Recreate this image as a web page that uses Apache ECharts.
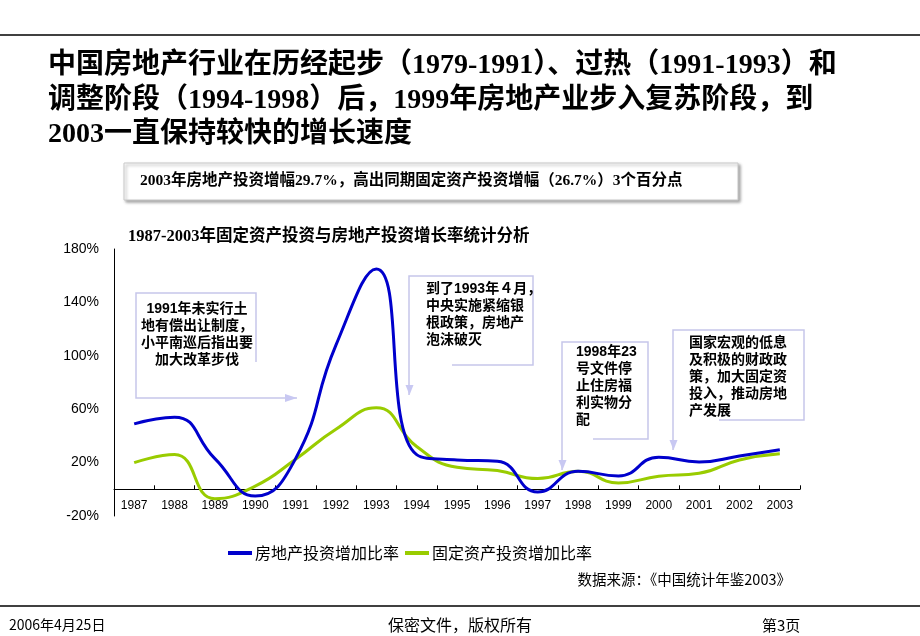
<!DOCTYPE html>
<html><head><meta charset="utf-8">
<script src="https://cdn.jsdelivr.net/npm/echarts@6/dist/echarts.min.js"></script>
<style>html,body{margin:0;padding:0;background:#fff}#c{width:920px;height:636px}</style>
</head><body><div id="c"></div>
<script>
const years = ['1987','1988','1989','1990','1991','1992','1993','1994','1995','1996','1997','1998','1999','2000','2001','2002','2003'];
const realEstateGrowth = [49, 54, 23, -5, 23, 108, 165, 26, 22, 21, -2, 13.5, 10, 24, 20.5, 25, 29.7];
const fixedAssetGrowth = [20, 26, -7, 2.4, 22.5, 45, 61, 32, 16.5, 14, 8, 13.5, 4.8, 9.8, 12, 22, 26.7];
const seriesNames = ['房地产投资增加比率', '固定资产投资增加比率'];
const yMin = -20, yMax = 180, yStep = 40;

const CJK = '"Noto Sans CJK SC"';
const SERIF = '"Liberation Serif", ' + CJK;
const SANS = '"Liberation Sans", Arial, ' + CJK;
const boxStroke = '#c6c6ea';
const arrowFill = '#c8c8f2';

const W = 920, H = 636;
const gridTop = 249, gridBottom = 120;
const gridHeight = H - gridTop - gridBottom;
// place the category axis (with its labels) on the zero line
const zeroOffset = -((0 - yMin) / (yMax - yMin)) * gridHeight;

function callout(points, tip, dir) {
  let tri;
  if (dir === 'right') tri = [[tip[0]-12, tip[1]-4], tip, [tip[0]-12, tip[1]+4]];
  else tri = [[tip[0]-4, tip[1]-10], tip, [tip[0]+4, tip[1]-10]];
  return [
    {type:'polyline', shape:{points}, style:{stroke:boxStroke, lineWidth:1.5, fill:null}, z:10},
    {type:'polygon', shape:{points:tri}, style:{fill:arrowFill}, z:10}
  ];
}
function note(x, y, text, align) {
  return {type:'text', x, y, z:11, style:{text, fill:'#000', font:'bold 14px ' + SANS, lineHeight:17, align: align||'left', verticalAlign:'top'}};
}

const chart = echarts.init(document.getElementById('c'), null, {renderer:'canvas'});
chart.setOption({
  backgroundColor:'#fff',
  animation:false,
  grid:{left:114, right:120, top:gridTop, bottom:gridBottom, containLabel:false},
  xAxis:{
    type:'category', data:years, boundaryGap:true, offset:zeroOffset,
    axisLine:{onZero:false, lineStyle:{color:'#000', width:1}},
    axisTick:{show:true, inside:true, length:4, interval:0, lineStyle:{color:'#000'}},
    axisLabel:{color:'#000', fontSize:12, fontFamily:SANS, margin:10, interval:0}
  },
  yAxis:{
    type:'value', min:yMin, max:yMax, interval:yStep,
    axisLine:{show:true, lineStyle:{color:'#000', width:1}},
    axisTick:{show:false},
    splitLine:{show:false},
    axisLabel:{color:'#000', fontSize:14, fontFamily:SANS, margin:15, formatter:'{value}%'}
  },
  legend:{
    left:223, top:540, itemWidth:24, itemHeight:4, itemGap:6, icon:'rect',
    textStyle:{fontSize:16, fontFamily:CJK, color:'#000', padding:[0,0,0,-2]},
    data:seriesNames
  },
  series:[
    {name:seriesNames[0], type:'line', data:realEstateGrowth, smooth:true, showSymbol:false, symbol:'none',
     lineStyle:{color:'#0000cc', width:3}, itemStyle:{color:'#0000cc'}, z:3},
    {name:seriesNames[1], type:'line', data:fixedAssetGrowth, smooth:true, showSymbol:false, symbol:'none',
     lineStyle:{color:'#99cc00', width:3}, itemStyle:{color:'#99cc00'}, z:2}
  ],
  graphic:[
    {type:'line', shape:{x1:0, y1:35, x2:920, y2:35}, style:{stroke:'#000', lineWidth:1.5}},
    {type:'text', x:48, y:49, style:{text:'中国房地产行业在历经起步（1979-1991）、过热（1991-1993）和\n调整阶段（1994-1998）后，1999年房地产业步入复苏阶段，到\n2003一直保持较快的增长速度', fill:'#000', font:'bold 28px ' + SERIF, lineHeight:34.5, verticalAlign:'top'}},
    {type:'rect', shape:{x:124, y:163, width:614, height:37}, style:{fill:'#fff', stroke:'#c8c8c8', lineWidth:1, shadowColor:'rgba(0,0,0,0.35)', shadowBlur:3, shadowOffsetX:2, shadowOffsetY:2}},
    {type:'text', x:140, y:181, style:{text:'2003年房地产投资增幅29.7%，高出同期固定资产投资增幅（26.7%）3个百分点', fill:'#000', font:'bold 15.5px ' + SERIF, verticalAlign:'middle'}},
    {type:'text', x:128, y:237, style:{text:'1987-2003年固定资产投资与房地产投资增长率统计分析', fill:'#000', font:'bold 16.5px ' + SERIF, verticalAlign:'middle'}},
    ...callout([[256,362],[256,293],[136,293],[136,398],[297,398]], [297,398], 'right'),
    note(197, 301, '1991年未实行土\n地有偿出让制度，\n小平南巡后指出要\n加大改革步伐', 'center'),
    ...callout([[452,365],[533,365],[533,276],[409,276],[409,395]], [409.5,395], 'down'),
    note(426, 281, '到了1993年４月，\n中央实施紧缩银\n根政策，房地产\n泡沫破灭'),
    ...callout([[593,439],[648,439],[648,342],[562,342],[562,470]], [562.5,470], 'down'),
    note(576, 344, '1998年23\n号文件停\n止住房福\n利实物分\n配'),
    ...callout([[719,420],[804,420],[804,330],[673,330],[673,450]], [673.5,450], 'down'),
    note(689, 335, '国家宏观的低息\n及积极的财政政\n策，加大固定资\n投入，推动房地\n产发展'),
    {type:'text', x:791, y:579, style:{text:'数据来源：《中国统计年鉴2003》', fill:'#000', font:'14.5px ' + CJK, align:'right', verticalAlign:'middle'}},
    {type:'line', shape:{x1:0, y1:606, x2:920, y2:606}, style:{stroke:'#000', lineWidth:1.5}},
    {type:'text', x:9, y:625, style:{text:'2006年4月25日', fill:'#000', font:'14px ' + CJK, verticalAlign:'middle'}},
    {type:'text', x:460, y:625, style:{text:'保密文件，版权所有', fill:'#000', font:'16px ' + CJK, align:'center', verticalAlign:'middle'}},
    {type:'text', x:762, y:625, style:{text:'第3页', fill:'#000', font:'15px ' + CJK, verticalAlign:'middle'}}
  ]
});
</script>
</body></html>
